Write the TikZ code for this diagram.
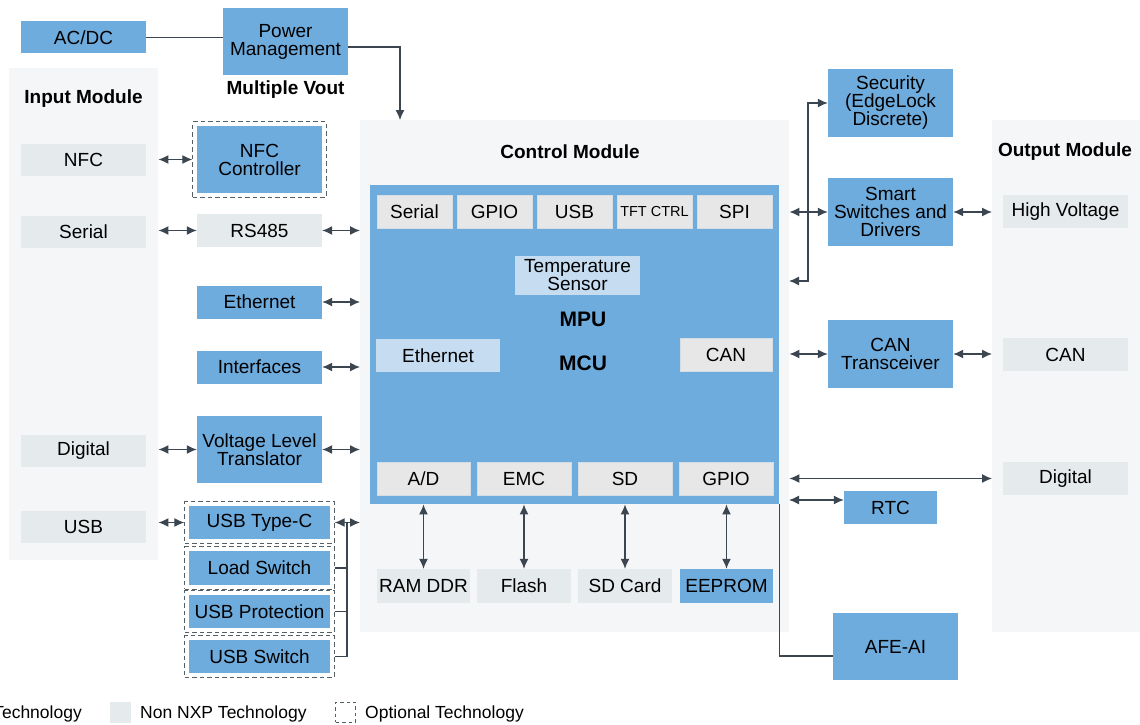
\documentclass[tikz,border=0pt]{standalone}
\usepackage{fontspec}
\setmainfont{Liberation Sans}
\usetikzlibrary{arrows.meta,fit,calc}
\definecolor{nxpblue}{HTML}{6FACDE}
\definecolor{nongray}{HTML}{E5EAEC}
\definecolor{chipgray}{HTML}{E7E7E7}
\definecolor{chipedge}{HTML}{D4DDE4}
\definecolor{liteblue}{HTML}{C6DDF1}
\definecolor{panelgray}{HTML}{F5F6F8}
\definecolor{arrowc}{HTML}{3B4650}
\definecolor{dashc}{HTML}{555F66}
\newcommand\fsz[2]{\fontsize{#1}{#2}\selectfont}
\begin{document}
\begin{tikzpicture}[x=1pt,y=-1pt,
  box/.style={inner sep=0pt, minimum width=125pt, minimum height=33pt, align=center, font=\fsz{19}{18}},
  nxp/.style={box, fill=nxpblue},
  non/.style={box, fill=nongray},
  chip/.style={box, fill=chipgray, draw=chipedge, line width=0.8pt},
  lite/.style={box, fill=liteblue},
  panel/.style={fill=panelgray, draw=none, inner sep=0pt, anchor=north west},
  opt/.style={draw=dashc, dash pattern=on 4.5pt off 3pt, line width=1pt, inner sep=4pt},
  title/.style={font=\bfseries\fsz{19}{20}},
  conn/.style={draw=arrowc, line width=1.3pt},
  biarrow/.style={conn, {Latex[length=10pt,width=9pt]}-{Latex[length=10pt,width=9pt]}},
  toarrow/.style={conn, -{Latex[length=10pt,width=9pt]}},
  legtext/.style={font=\fsz{17.5}{18}, inner sep=0pt},
]
\useasboundingbox (0,0) rectangle (1140,725);

% panels
\node[panel, minimum width=149pt, minimum height=492pt] (inp) at (9,68) {};
\node[panel, minimum width=429pt, minimum height=512pt] (ctrl) at (360,120) {};
\node[panel, minimum width=148pt, minimum height=512pt] (outp) at (992,120) {};

% power
\node[nxp, minimum height=32pt] (acdc) at (83.5,37.5) {AC/DC};
\node[nxp, minimum height=67pt] (pm) at (285.5,41.5) {Power\\Management};
\node[title] (mvout) at (285.5,90) {Multiple Vout};
\coordinate (pwrin) at (400,120);
\draw[conn, line width=1.2pt] (acdc.east) -- (acdc -| pm.west);
\draw[toarrow, line width=1.2pt] ($(pm.east)+(0,5.5)$) -| (pwrin);

% input module
\node[title] (inptitle) at (83.5,99) {Input Module};
\node[non, minimum height=32pt] (nfc) at (83.5,159.5) {NFC};
\node[non, minimum height=32pt] (serial) at (83.5,231.5) {Serial};
\node[non, minimum height=32pt] (digital) at (83.5,450.5) {Digital};
\node[non, minimum height=32pt] (usb) at (83.5,526.5) {USB};

% interface column
\node[nxp, minimum height=67pt] (nfcc) at (259.5,159.5) {NFC\\Controller};
\node[opt, fit=(nfcc)] (nfcopt) {};
\node[non] (rs) at (259.5,230.5) {RS485};
\node[nxp] (eth) at (259.5,302) {Ethernet};
\node[nxp] (intf) at (259.5,367) {Interfaces};
\node[nxp, minimum height=67pt] (vlt) at (259.5,449.5) {Voltage Level\\Translator};
\node[nxp, minimum width=141pt] (usbc) at (259.5,522.5) {USB Type-C};
\node[opt, fit=(usbc)] (usbcopt) {};
\node[nxp, minimum width=141pt, minimum height=34pt] (load) at (259.5,568) {Load Switch};
\node[opt, fit=(load)] (loadopt) {};
\node[nxp, minimum width=141pt] (usbp) at (259.5,611.5) {USB Protection};
\node[opt, fit=(usbp)] (usbpopt) {};
\node[nxp, minimum width=141pt] (usbs) at (259.5,656.5) {USB Switch};
\node[opt, fit=(usbs)] (usbsopt) {};

\draw[biarrow] (nfcopt.west -| inp.east) -- (nfcopt.west);
\draw[biarrow] (rs.west -| inp.east) -- (rs.west);
\draw[biarrow] (rs.east) -- (rs -| ctrl.west);
\draw[biarrow] (eth.east) -- (eth -| ctrl.west);
\draw[biarrow] (intf.east) -- (intf -| ctrl.west);
\draw[biarrow] (vlt.west -| inp.east) -- (vlt.west);
\draw[biarrow] (vlt.east) -- (vlt -| ctrl.west);
\draw[biarrow] (usbcopt.west -| inp.east) -- (usbcopt.west);
\draw[biarrow] (usbcopt.east) -- (usbcopt -| ctrl.west);
\coordinate (usbbus) at (347,522.5);
\draw[conn] (usbbus) |- (usbsopt.east);
\draw[conn] (loadopt.east) -- (loadopt.east -| usbbus);
\draw[conn] (usbpopt.east) -- (usbpopt.east -| usbbus);

% control module
\node[title] (ctitle) at (570,151.5) {Control Module};
\node[fill=nxpblue, inner sep=0pt, anchor=north west, minimum width=409pt, minimum height=319pt] (mcu) at (370,185) {};
\node[chip, minimum width=75pt] (cser) at (414.5,211.5) {Serial};
\node[chip, minimum width=75pt] (cgpio) at (494.5,211.5) {GPIO};
\node[chip, minimum width=75pt] (cusb) at (574.5,211.5) {USB};
\node[chip, minimum width=75pt, font=\fsz{14.5}{15}] (ctft) at (654.5,211.5) {TFT CTRL};
\node[chip, minimum width=75pt] (cspi) at (734.5,211.5) {SPI};
\node[lite, minimum height=39pt] (temp) at (577.5,275.5) {Temperature\\Sensor};
\node[font=\bfseries\fsz{21}{22}] (mputxt) at (583,319) {MPU};
\node[font=\bfseries\fsz{21}{22}] (mcutxt) at (583,363) {MCU};
\node[lite, minimum width=124pt] (ceth) at (438,355.5) {Ethernet};
\node[chip, minimum width=92pt] (ccan) at (726,354.5) {CAN};
\node[chip, minimum width=93pt] (cad) at (423.5,478.5) {A/D};
\node[chip, minimum width=94pt] (cemc) at (524,478.5) {EMC};
\node[chip, minimum width=94pt] (csd) at (625,478.5) {SD};
\node[chip, minimum width=94pt] (cgpio2) at (726,478.5) {GPIO};
\node[non, minimum width=93pt, minimum height=34pt] (ram) at (423.5,586) {RAM DDR};
\node[non, minimum width=94pt, minimum height=34pt] (flash) at (524,586) {Flash};
\node[non, minimum width=94pt, minimum height=34pt] (sdcard) at (625,586) {SD Card};
\node[nxp, minimum width=93pt, minimum height=34pt] (eeprom) at (726.5,586) {EEPROM};
\draw[biarrow] (cad |- mcu.south) -- (ram.north);
\draw[biarrow] (cemc |- mcu.south) -- (flash.north);
\draw[biarrow] (csd |- mcu.south) -- (sdcard.north);
\draw[biarrow] (eeprom.north |- mcu.south) -- (eeprom.north);

% right side
\node[nxp, minimum height=68pt] (sec) at (890.5,103) {Security\\(EdgeLock\\Discrete)};
\node[nxp, minimum height=68pt] (smart) at (890.5,212) {Smart\\Switches and\\Drivers};
\node[nxp, minimum height=68pt] (cantr) at (890.5,354) {CAN\\Transceiver};
\node[nxp, minimum width=93pt] (rtc) at (890.5,507.5) {RTC};
\node[nxp, minimum height=67pt] (afe) at (895.5,646.5) {AFE-AI};

\node[title] (otitle) at (1065,151.5) {Output Module};
\node[non] (hv) at (1065.5,211.5) {High Voltage};
\node[non] (canout) at (1065.5,354.5) {CAN};
\node[non] (digout) at (1065.5,478.5) {Digital};

\coordinate (secport) at (789,281);
\draw[biarrow] (secport) -- ++(19,0) |- (sec.west);
\draw[biarrow] (smart.west -| ctrl.east) -- (smart.west);
\draw[biarrow] (smart.east) -- (smart.east -| outp.west);
\draw[biarrow] (cantr.west -| ctrl.east) -- (cantr.west);
\draw[biarrow] (cantr.east) -- (cantr.east -| outp.west);
\draw[biarrow] (digout -| ctrl.east) -- (digout -| outp.west);
\coordinate (rtcport) at (789,500);
\draw[biarrow] (rtcport) -- (rtcport -| rtc.west);
\draw[conn] (mcu.south east) |- ($(afe.west)+(0,9.5)$);

% legend
\node[legtext, anchor=east] (lgnxp) at (82,713.5) {Technology};
\node[fill=nongray, minimum width=21pt, minimum height=21pt, inner sep=0pt] (lgnon) at (120.5,712.5) {};
\node[legtext, anchor=west] (lgnontxt) at (140,713.5) {Non NXP Technology};
\node[draw=dashc, dash pattern=on 3.5pt off 3pt, line width=0.9pt, minimum width=20pt, minimum height=20pt, inner sep=0pt] (lgopt) at (345.5,712) {};
\node[legtext, anchor=west] (lgopttxt) at (365,713.5) {Optional Technology};
\end{tikzpicture}
\end{document}
